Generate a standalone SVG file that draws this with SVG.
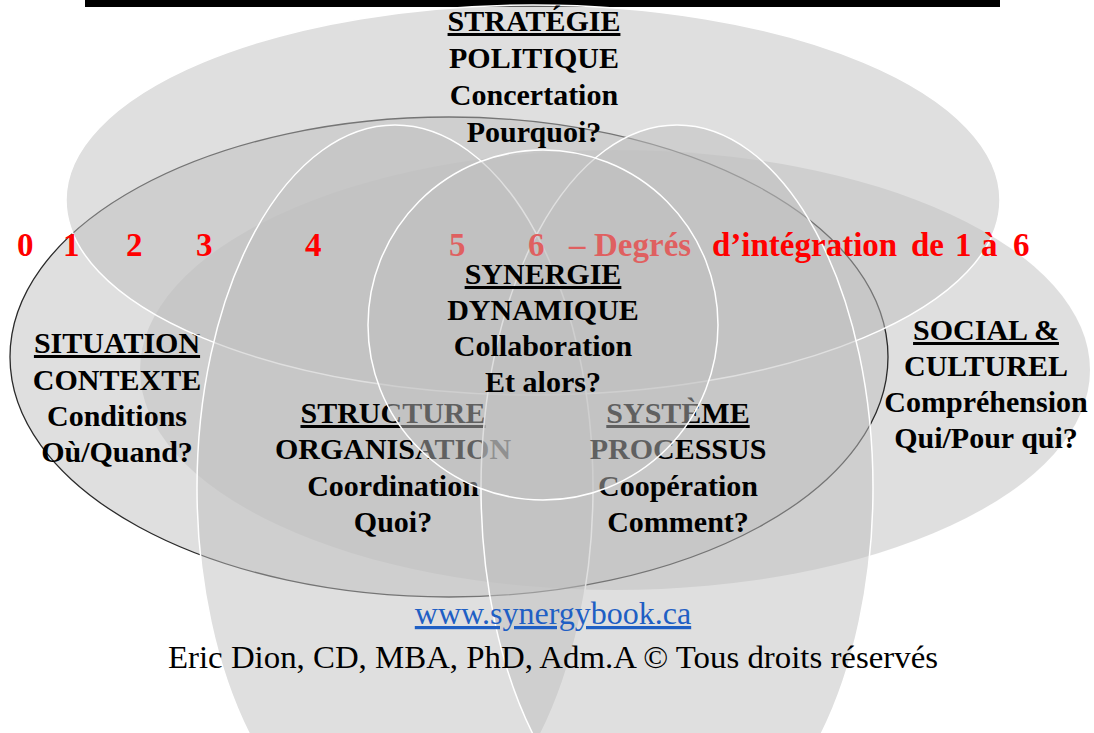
<svg xmlns="http://www.w3.org/2000/svg" width="1094" height="733" viewBox="0 0 1094 733">
<style>
.s{fill:#bfbfbf;fill-opacity:.5;stroke:#fff;stroke-width:1.5}
.ns{stroke:none}
.out{stroke:#2a2a2a;stroke-width:1.3}
.t{font-family:"Liberation Serif","Times New Roman",serif;font-weight:bold;font-size:30px;fill:#000;text-anchor:middle}
.u{text-decoration:underline}
.r{font-family:"Liberation Serif","Times New Roman",serif;font-weight:bold;font-size:33px;fill:#ff0000}
.f{font-family:"Liberation Serif","Times New Roman",serif;font-size:32px;text-anchor:middle}
</style>
<rect x="0" y="0" width="1094" height="733" fill="#fff"/>
<rect id="title-bar" x="85" y="0" width="915" height="7" fill="#000"/>
<g id="social">
<ellipse class="s ns" cx="615" cy="370" rx="475" ry="220"/>
<text class="t"><tspan class="u" x="986" y="340">SOCIAL &amp;</tspan><tspan x="986" y="376">CULTUREL</tspan><tspan x="986" y="412">Compréhension</tspan><tspan x="986" y="448">Qui/Pour qui?</tspan></text>
</g>
<g id="situation">
<ellipse class="s out" cx="449" cy="357" rx="439" ry="240"/>
<text class="t"><tspan class="u" x="117" y="353">SITUATION</tspan><tspan x="117" y="390">CONTEXTE</tspan><tspan x="117" y="426">Conditions</tspan><tspan x="117" y="462">Où/Quand?</tspan></text>
</g>
<g id="strategie">
<ellipse class="s" cx="533" cy="200" rx="467" ry="195"/>
<text class="t"><tspan class="u" x="534" y="31">STRATÉGIE</tspan><tspan x="534" y="68">POLITIQUE</tspan><tspan x="534" y="105">Concertation</tspan><tspan x="534" y="142">Pourquoi?</tspan></text>
</g>
<g id="structure">
<ellipse class="s" cx="395" cy="488" rx="198" ry="363"/>
<text class="t"><tspan class="u" x="393" y="423">STRUCTURE</tspan><tspan x="393" y="459">ORGANISATION</tspan><tspan x="393" y="496">Coordination</tspan><tspan x="393" y="532">Quoi?</tspan></text>
</g>
<g id="systeme">
<ellipse class="s" cx="677" cy="488" rx="196" ry="363"/>
<text class="t"><tspan class="u" x="678" y="423">SYSTÈME</tspan><tspan x="678" y="459">PROCESSUS</tspan><tspan x="678" y="496">Coopération</tspan><tspan x="678" y="532">Comment?</tspan></text>
</g>
<g id="degres">
<text class="r" y="256"><tspan x="17">0</tspan><tspan x="63">1</tspan><tspan x="126">2</tspan><tspan x="196">3</tspan><tspan x="305">4</tspan><tspan x="449">5</tspan><tspan x="528">6</tspan><tspan x="569">–</tspan><tspan x="594">Degrés</tspan><tspan x="712">d’intégration</tspan><tspan x="911">de</tspan><tspan x="955">1</tspan><tspan x="981">à</tspan><tspan x="1013">6</tspan></text>
</g>
<g id="synergie">
<circle class="s" cx="543" cy="325" r="175"/>
<text class="t"><tspan class="u" x="543" y="284">SYNERGIE</tspan><tspan x="543" y="320">DYNAMIQUE</tspan><tspan x="543" y="356">Collaboration</tspan><tspan x="543" y="392">Et alors?</tspan></text>
</g>
<g id="footer">
<text class="f u" x="553" y="624" fill="#1f5fc4">www.synergybook.ca</text>
<text class="f" x="553" y="668" fill="#000" textLength="770" lengthAdjust="spacingAndGlyphs">Eric Dion, CD, MBA, PhD, Adm.A © Tous droits réservés</text>
</g>
</svg>
